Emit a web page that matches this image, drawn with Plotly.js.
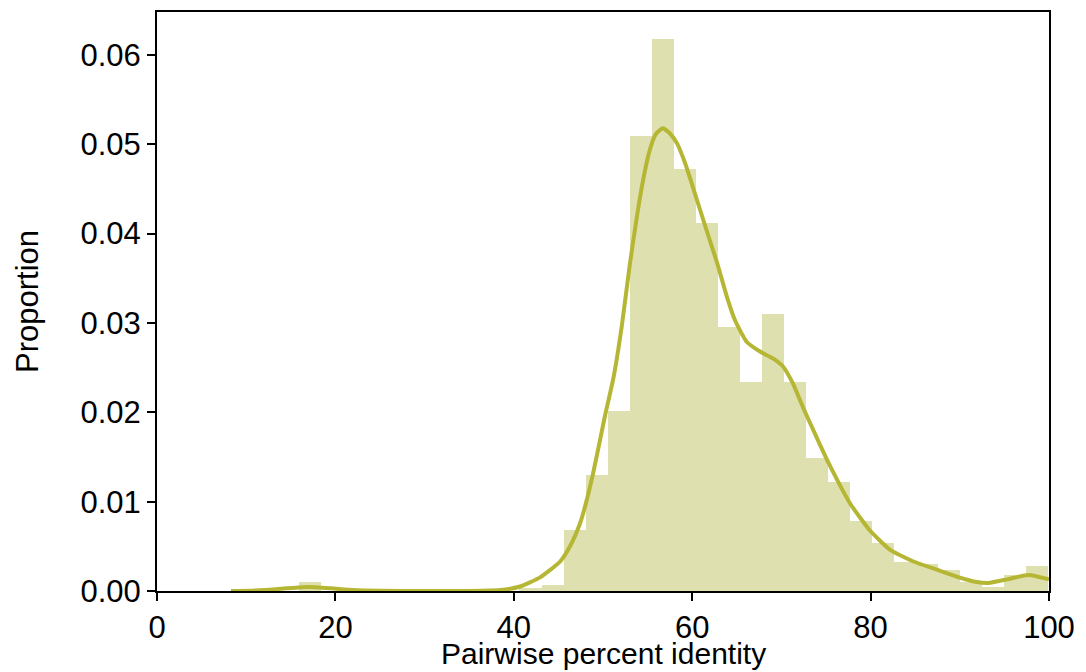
<!DOCTYPE html>
<html>
<head>
<meta charset="utf-8">
<script src="https://cdn.plot.ly/plotly-3.0.1.min.js"></script>
<style>
html,body{margin:0;padding:0;background:#fff;}
#chart{width:1086px;height:672px;}
</style>
</head>
<body>
<div id="chart"></div>
<script>
// Histogram bins (percent identity) and proportions
const binWidth = 2.47;
const binCenters = [17.17, 19.64, 22.11, 24.58, 27.05, 29.52, 31.99, 34.46, 36.93, 39.40,
  41.87, 44.34, 46.81, 49.28, 51.75, 54.22, 56.69, 59.16, 61.63, 64.10,
  66.57, 69.04, 71.51, 73.98, 76.45, 78.92, 81.39, 83.86, 86.33, 88.80,
  91.27, 93.74, 96.21, 98.68];
const proportions = [0.00097, 0, 0, 0, 0, 0, 0, 0, 0, 0,
  0.0003, 0.0007, 0.0068, 0.0130, 0.0201, 0.0509, 0.0618, 0.0472, 0.0412, 0.0296,
  0.0234, 0.0310, 0.0234, 0.0149, 0.0122, 0.0078, 0.0054, 0.0033, 0.0030, 0.0024,
  0.0010, 0.0004, 0.0018, 0.0028];

// Density curve
const kdeX = [8.3, 12, 14.5, 17, 19.5, 22, 25, 30, 35, 38.5, 40.7, 42.9, 45.2, 46.3, 47.4, 48.0, 48.9,
  50.2, 51.2, 52.1, 53.0, 53.8, 54.5, 55.2, 55.9, 56.7, 57.5, 58.3, 59.2, 60.3, 61.6, 62.8, 63.9,
  64.8, 66.1, 67.6, 69.1, 70.2, 71.3, 72.4, 73.9, 75.3, 77.7, 79.9, 82.2, 84.8, 87.4, 90.0, 91.9,
  93.2, 95.3, 97.7, 100];
const kdeY = [0.0000, 0.0001, 0.0003, 0.00045, 0.0003, 0.0001, 0.00002, 0.0000, 0.0000, 0.0001, 0.0005, 0.0015, 0.0033, 0.0050, 0.0075, 0.0095, 0.0132,
  0.0195, 0.0240, 0.0296, 0.0365, 0.0419, 0.0460, 0.0492, 0.0511, 0.0518, 0.0512, 0.0501, 0.0479, 0.0445, 0.0404, 0.0367, 0.0329,
  0.0303, 0.0279, 0.0268, 0.0260, 0.0251, 0.0232, 0.0206, 0.0173, 0.0143, 0.0098, 0.0068, 0.0046, 0.0033, 0.0024, 0.0015, 0.0010,
  0.0009, 0.0013, 0.0018, 0.0013];

const xTicks = [0, 20, 40, 60, 80, 100];
const yTicks = [0, 0.01, 0.02, 0.03, 0.04, 0.05, 0.06];
const yTickText = ['0.00', '0.01', '0.02', '0.03', '0.04', '0.05', '0.06'];
const xTitle = 'Pairwise percent identity';
const yTitle = 'Proportion';

const FONT = 'Liberation Sans, Arial, sans-serif';

const traces = [
  {
    type: 'bar',
    x: binCenters,
    y: proportions,
    width: binWidth,
    marker: {color: 'rgb(223,224,176)', line: {width: 0}},
    hoverinfo: 'x+y',
    showlegend: false
  },
  {
    type: 'scatter',
    mode: 'lines',
    x: kdeX,
    y: kdeY,
    line: {color: 'rgb(181,183,52)', width: 4, shape: 'spline', smoothing: 0.5},
    showlegend: false
  }
];

const layout = {
  width: 1086,
  height: 672,
  margin: {l: 157, r: 37, t: 12, b: 81},
  paper_bgcolor: '#fff',
  plot_bgcolor: '#fff',
  bargap: 0,
  font: {family: FONT, size: 31, color: '#000'},
  xaxis: {
    range: [0, 100],
    tickvals: xTicks,
    ticktext: xTicks.map(String),
    ticks: 'outside',
    ticklen: 8,
    tickwidth: 2,
    tickcolor: '#000',
    showline: true,
    linecolor: '#000',
    linewidth: 2,
    mirror: true,
    showgrid: false,
    zeroline: false,
    tickfont: {family: FONT, size: 31, color: '#000'}
  },
  yaxis: {
    range: [0, 0.0648],
    tickvals: yTicks,
    ticktext: yTickText,
    ticks: 'outside',
    ticklen: 8,
    tickwidth: 2,
    tickcolor: '#000',
    showline: true,
    linecolor: '#000',
    linewidth: 2,
    mirror: true,
    showgrid: false,
    zeroline: false,
    tickfont: {family: FONT, size: 31, color: '#000'},
    title: {text: yTitle, font: {family: FONT, size: 31, color: '#000'}, standoff: 33}
  },
  annotations: [
    {
      text: xTitle,
      xref: 'paper', yref: 'paper',
      x: 0.5, y: -0.1088,
      xanchor: 'center', yanchor: 'middle',
      showarrow: false,
      font: {family: FONT, size: 30, color: '#000'}
    }
  ]
};

Plotly.newPlot('chart', traces, layout, {displayModeBar: false, staticPlot: true});
</script>
</body>
</html>
